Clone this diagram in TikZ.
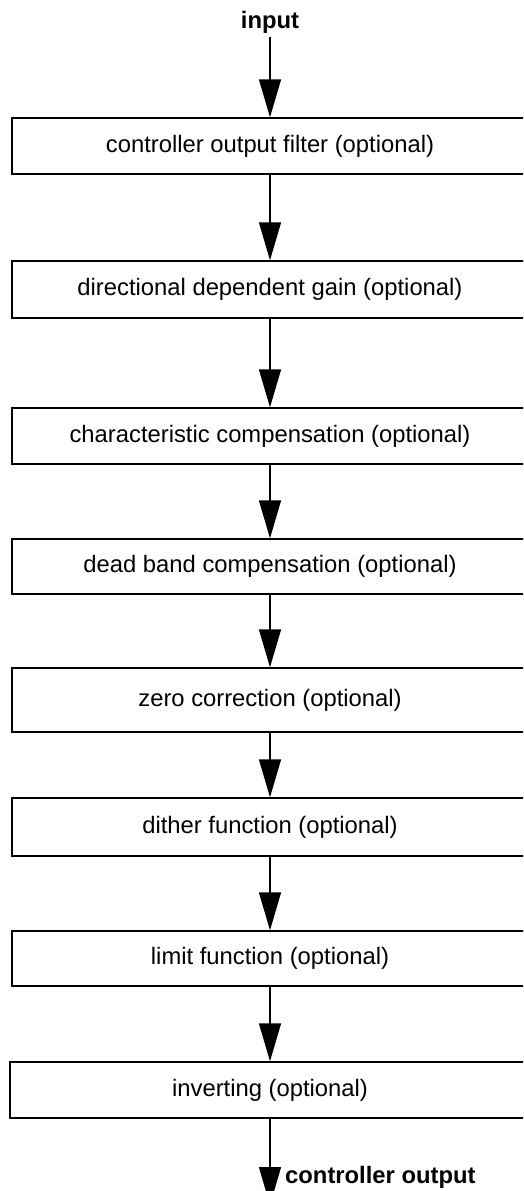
\documentclass[tikz,border=0pt]{standalone}
\usepackage{fontspec}
\setmainfont{Liberation Sans}
\usetikzlibrary{arrows.meta}
\begin{document}
\begin{tikzpicture}[x=1pt,y=-1pt,
  stagebox/.style={draw=black, line width=1.4pt, fill=white, minimum width=516pt,
    inner sep=0pt, font=\fontsize{23.8}{28}\selectfont},
  flow/.style={draw=black, line width=1.4pt, -{Triangle[length=38pt,width=22pt]}},
  label/.style={font=\fontsize{23.8}{28}\selectfont\bfseries}]
  \useasboundingbox (0,0) rectangle (523,1191);
  \clip (0,0) rectangle (523,1191);

  % processing stages, top to bottom
  \node[stagebox, minimum height=56pt] (b1) at (270,146) {controller output filter (optional)};
  \node[stagebox, minimum height=57pt] (b2) at (270,289.5) {directional dependent gain (optional)};
  \node[stagebox, minimum height=56pt] (b3) at (270,436) {characteristic compensation (optional)};
  \node[stagebox, minimum height=55pt] (b4) at (270,566.5) {dead band compensation (optional)};
  \node[stagebox, minimum height=64pt] (b5) at (270,700) {zero correction (optional)};
  \node[stagebox, minimum height=58pt] (b6) at (270,827) {dither function (optional)};
  \node[stagebox, minimum height=55pt] (b7) at (270,958.5) {limit function (optional)};
  \node[stagebox, minimum height=56pt, minimum width=520pt] (b8) at (270,1090) {inverting (optional)};

  % input and output
  \node[label] (in) at (270,22) {input};
  \coordinate (outend) at (270,1205);
  \node[label, anchor=west, inner sep=0pt] (out) at (285,1177) {controller output};

  % signal flow
  \draw[flow] (in.south) -- (b1.north);
  \draw[flow] (b1.south) -- (b2.north);
  \draw[flow] (b2.south) -- (b3.north);
  \draw[flow] (b3.south) -- (b4.north);
  \draw[flow] (b4.south) -- (b5.north);
  \draw[flow] (b5.south) -- (b6.north);
  \draw[flow] (b6.south) -- (b7.north);
  \draw[flow] (b7.south) -- (b8.north);
  \draw[flow] (b8.south) -- (outend);
\end{tikzpicture}
\end{document}
